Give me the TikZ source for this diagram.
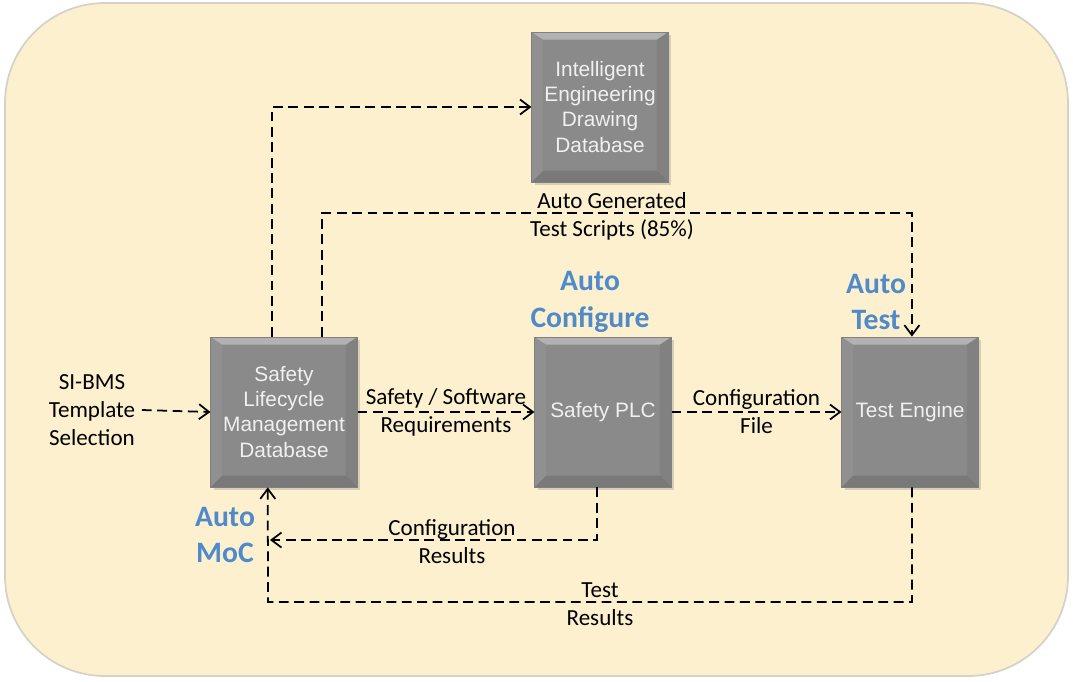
\documentclass[tikz,border=0pt]{standalone}
\usepackage{fontspec}
\setmainfont{Carlito}
\newfontfamily\boxfont{Liberation Sans}
\usetikzlibrary{arrows.meta,positioning,shadows}
\definecolor{paper}{HTML}{FDF0CE}
\definecolor{rim}{HTML}{D5D2C8}
\definecolor{slate}{HTML}{8A8A8A}
\definecolor{autoblue}{HTML}{4F8ACB}

\tikzset{
    bevel/.style={path picture={
        \fill[white,opacity=.35] (path picture bounding box.north west) -- (path picture bounding box.north east)
            -- ([shift={(-1.8mm,-1.2mm)}]path picture bounding box.north east) -- ([shift={(1.8mm,-1.2mm)}]path picture bounding box.north west) -- cycle;
        \fill[white,opacity=.06] (path picture bounding box.north west) -- (path picture bounding box.south west)
            -- ([shift={(1.8mm,1.8mm)}]path picture bounding box.south west) -- ([shift={(1.8mm,-1.2mm)}]path picture bounding box.north west) -- cycle;
        \fill[black,opacity=.06] (path picture bounding box.north east) -- (path picture bounding box.south east)
            -- ([shift={(-1.8mm,1.8mm)}]path picture bounding box.south east) -- ([shift={(-1.8mm,-1.2mm)}]path picture bounding box.north east) -- cycle;
        \fill[black,opacity=.12] (path picture bounding box.south west) -- (path picture bounding box.south east)
            -- ([shift={(-1.8mm,1.8mm)}]path picture bounding box.south east) -- ([shift={(1.8mm,1.8mm)}]path picture bounding box.south west) -- cycle;
    }}
}

\begin{document}
\begin{tikzpicture}[x=0.016cm, y=-0.016cm,
    dbox/.style={fill=slate, draw=black!50, line width=0.4pt, minimum width=2.18cm, minimum height=2.4cm,
        text=white!94!black, align=center, font=\boxfont\fontsize{9.5}{11.4}\selectfont, bevel,
        drop shadow={opacity=.3, shadow xshift=0.5mm, shadow yshift=-0.5mm}},
    lbl/.style={font=\fontsize{10.5}{12.7}\selectfont, align=center, inner sep=0pt},
    autotag/.style={font=\bfseries\fontsize{13.5}{16.5}\selectfont, text=autoblue, align=center, inner sep=0pt},
    arrow/.style={-{Straight Barb[length=1.6mm,width=2.4mm]}, line width=0.8pt, dash pattern=on 4.5pt off 2.5pt}
]
\useasboundingbox (0,0) rectangle (1073,681);
\fill[paper, draw=rim, line width=0.8pt, rounded corners=1.6cm] (5,3) rectangle (1068,676);

% boxes
\node[dbox, minimum width=2.34cm] (slmd) at (284,412) {Safety\\Lifecycle\\Management\\Database};
\node[dbox] (iedd) at (600,107) {Intelligent\\Engineering\\Drawing\\Database};
\node[dbox] (plc) at (603,412) {Safety PLC};
\node[dbox] (engine) at (910,412) {Test Engine};

% text
\node[lbl] (sibms) at (92,410) {SI-BMS\\Template\\Selection};
\node[autotag] (autocfg) at (590,302) {Auto\\Configure};
\node[autotag] (autotest) at (876,302) {Auto\\Test};
\node[autotag] (automoc) at (225,535) {Auto\\MoC};

\coordinate (tsbend) at (612,213);
\coordinate (crend) at (270,540);
\coordinate (trbend) at (268,602);

% connectors
\draw[arrow] ([xshift=1mm]sibms.east) -- (slmd.west);
\draw[arrow] ([xshift=-0.19cm]slmd.north) |- (iedd.west);
\draw[arrow] ([xshift=0.61cm]slmd.north) |- (tsbend) -| ([xshift=0.03cm]engine.north);
\node[lbl] (tslbl) at (612,216) {Auto Generated\\Test Scripts (85\%)};
\draw[arrow] (slmd.east) -- node[lbl] (reqlbl) {Safety / Software\\Requirements} (plc.west);
\draw[arrow] (plc.east) -- node[lbl] (filelbl) {Configuration\\File} (engine.west);
\draw[arrow] ([xshift=-0.1cm]plc.south) |- (crend);
\node[lbl] (crlbl) at (452,542) {Configuration\\Results};
\draw[arrow] ([xshift=0.03cm]engine.south) |- (trbend) -- ([xshift=-0.26cm]slmd.south);
\node[lbl] (trlbl) at (600,604) {Test\\Results};
\end{tikzpicture}
\end{document}
